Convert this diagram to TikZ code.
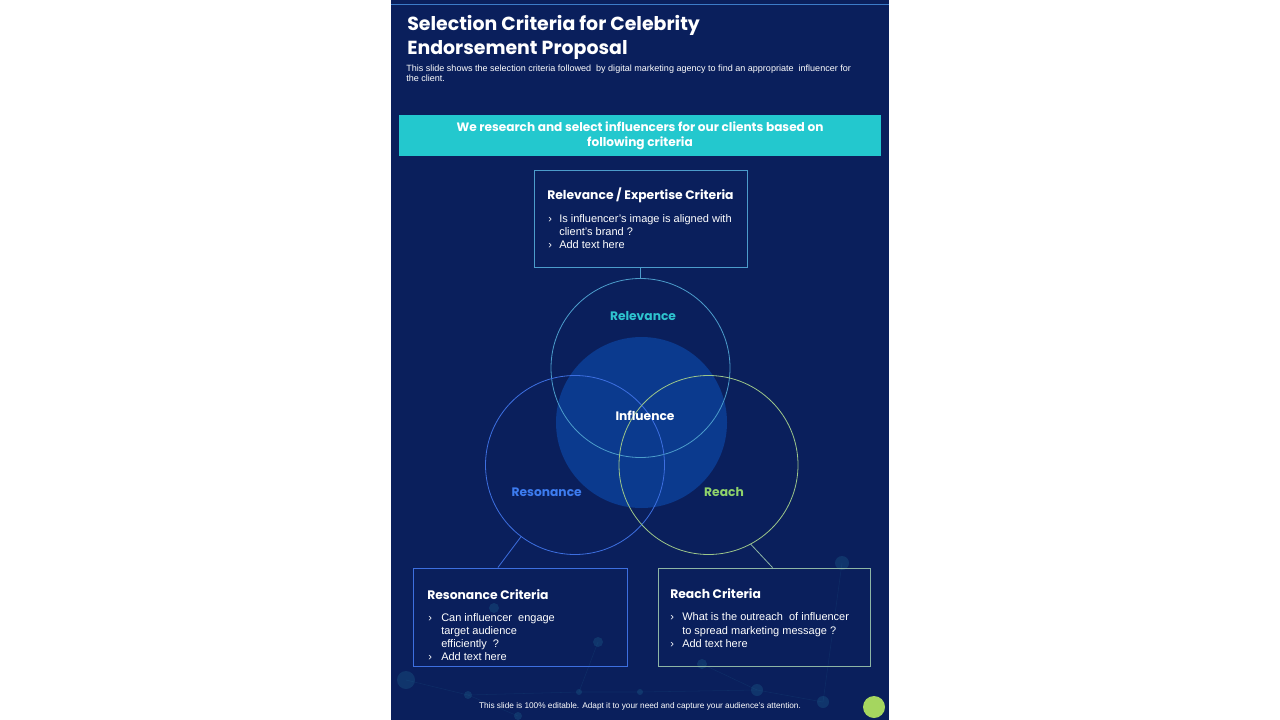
\documentclass[tikz,border=0pt]{standalone}
\usepackage{fontspec}
\setmainfont{Liberation Sans}
\newfontfamily\headfont{Poppins}
\usetikzlibrary{fit,calc}
\definecolor{bg}{HTML}{0A1F5C}
\definecolor{topline}{HTML}{3C7BC8}
\definecolor{banner}{HTML}{23C8CE}
\definecolor{relc}{HTML}{4C9CCB}
\definecolor{resc}{HTML}{3D6FE0}
\definecolor{reac}{HTML}{9CC68A}
\definecolor{reabox}{HTML}{8DB5A5}
\definecolor{inflc}{HTML}{0B3A8E}
\definecolor{reltext}{HTML}{2EC4CF}
\definecolor{restext}{HTML}{3D7CF0}
\definecolor{reatext}{HTML}{8FD36B}
\definecolor{greendot}{HTML}{A5D65F}
\definecolor{deco}{HTML}{1F6A92}
\tikzset{
  body/.style={font=\fontsize{8.24}{9.9}\selectfont, text=white, inner sep=0pt, anchor=base west},
  boxtitle/.style={font=\headfont\bfseries\fontsize{9.25}{11}\selectfont, text=white, inner sep=0pt, anchor=base west},
  critbox/.style={draw, line width=0.7pt, inner sep=0pt},
  venn/.style={circle, draw, line width=0.6pt, inner sep=0pt, outer sep=0pt, minimum size=134.25pt},
  vlabel/.style={font=\headfont\bfseries\fontsize{9.2}{11}\selectfont, inner sep=0pt, anchor=base},
  link/.style={line width=0.6pt},
  decodot/.style={fill=deco, fill opacity=0.3},
  decoline/.style={draw=deco, draw opacity=0.18, line width=0.4pt},
}
\begin{document}
\begin{tikzpicture}[x=0.75pt,y=-0.75pt]
\useasboundingbox (0,0) rectangle (1280,720);
\fill[white] (0,0) rectangle (1280,720);
\fill[bg] (391,0) rectangle (889,720);
\draw[topline, line width=0.7pt] (391,4) -- (889,4);

% decorative network
\path[decoline] (406,680) -- (468,695) -- (579,692) -- (640,692) -- (757,690) -- (823,702);
\path[decoline] (598,642) -- (579,692);
\path[decoline] (702,664) -- (757,690);
\path[decoline] (842,563) -- (823,702);
\path[decoline] (468,695) -- (518,716);
\foreach \p/\r in {{(406,680)}/9,{(468,695)}/4,{(494,608)}/5,{(598,642)}/5,{(579,692)}/3,{(518,716)}/4,{(842,563)}/7,{(702,664)}/5,{(757,690)}/6,{(823,702)}/6,{(640,692)}/3}
  \fill[decodot] \p circle (\r);

% title
\node[font=\headfont\bfseries\fontsize{14.2}{17}\selectfont, text=white, inner sep=0pt, anchor=base west] (t1) at (407,31) {Selection Criteria for Celebrity};
\node[font=\headfont\bfseries\fontsize{14.2}{17}\selectfont, text=white, inner sep=0pt, anchor=base west] (t2) at (407,55) {Endorsement Proposal};
\node[font=\fontsize{6.78}{8}\selectfont, text=white, inner sep=0pt, anchor=base west] (s1) at (406,71.5) {This slide shows the selection criteria followed\ \ by digital marketing agency to find an appropriate\ \ influencer for};
\node[font=\fontsize{6.78}{8}\selectfont, text=white, inner sep=0pt, anchor=base west] (s2) at (406,81.7) {the client.};

% banner
\node[fill=banner, inner sep=0pt, fit={(399,115) (881,156)}] (banner) {};
\node[font=\headfont\bfseries\fontsize{9.1}{11}\selectfont, text=white, inner sep=0pt, anchor=base] (b1) at (640,131.7) {We research and select influencers for our clients based on};
\node[font=\headfont\bfseries\fontsize{9.1}{11}\selectfont, text=white, inner sep=0pt, anchor=base] (b2) at (640,147) {following criteria};

% influence fill
\node[circle, fill=inflc, inner sep=0pt, minimum size=128.25pt] (cinf) at (641.5,422.5) {};

% venn circles
\node[venn, draw=relc] (crel) at (640.5,368) {};
\node[venn, draw=resc] (cres) at (575,465) {};
\node[venn, draw=reac] (crea) at (708.5,465) {};

\node[vlabel, text=reltext] (lrel) at (643,320.7) {Relevance};
\node[vlabel, text=white] (linf) at (645,420.7) {Influence};
\node[vlabel, text=restext] (lres) at (546.7,496) {Resonance};
\node[vlabel, text=reatext] (lrea) at (724,496) {Reach};

% boxes
\node[critbox, draw=relc, fit={(534,170) (747,267)}] (relbox) {};
\node[critbox, draw=resc, fit={(413,568) (627,666)}] (resbox) {};
\node[critbox, draw=reabox, fit={(658,568) (870,666)}] (reabox) {};

% connectors
\draw[link, relc] (relbox.south) -- (crel.north);
\draw[link, resc] (cres.233) -- ($(resbox.north west)!0.397!(resbox.north east)$);
\draw[link, reabox] (crea.298) -- ($(reabox.north west)!0.54!(reabox.north east)$);

% relevance box text
\node[boxtitle] (relt) at (547,200) {Relevance / Expertise Criteria};
\node[body] (relb1) at (548,222.3) {›};
\node[body] (rel1a) at (559,222.3) {Is influencer’s image is aligned with};
\node[body] (rel1b) at (559,235) {client’s brand ?};
\node[body] (relb2) at (548,248.3) {›};
\node[body] (rel2) at (559,248.3) {Add text here};

% resonance box text
\node[boxtitle] (rest) at (427,599.3) {Resonance Criteria};
\node[body] (resb1) at (428,621.7) {›};
\node[body] (res1a) at (441,621.7) {Can influencer\ \ engage};
\node[body] (res1b) at (441,634.3) {target audience};
\node[body] (res1c) at (441,647.3) {efficiently\ \ ?};
\node[body] (resb2) at (428,660) {›};
\node[body] (res2) at (441,660) {Add text here};

% reach box text
\node[boxtitle] (reat) at (670,598.3) {Reach Criteria};
\node[body] (reab1) at (670,620.7) {›};
\node[body] (rea1a) at (682,620.7) {What is the outreach\ \ of influencer};
\node[body] (rea1b) at (682,634) {to spread marketing message ?};
\node[body] (reab2) at (670,647.3) {›};
\node[body] (rea2) at (682,647.3) {Add text here};

% footer
\node[font=\fontsize{6.2}{7}\selectfont, text=white, inner sep=0pt, anchor=base] (foot) at (640,708.3) {This slide is 100\% editable. Adapt it to your need and capture your audience’s attention.};
\fill[greendot] (874,707) circle (11);
\end{tikzpicture}
\end{document}
